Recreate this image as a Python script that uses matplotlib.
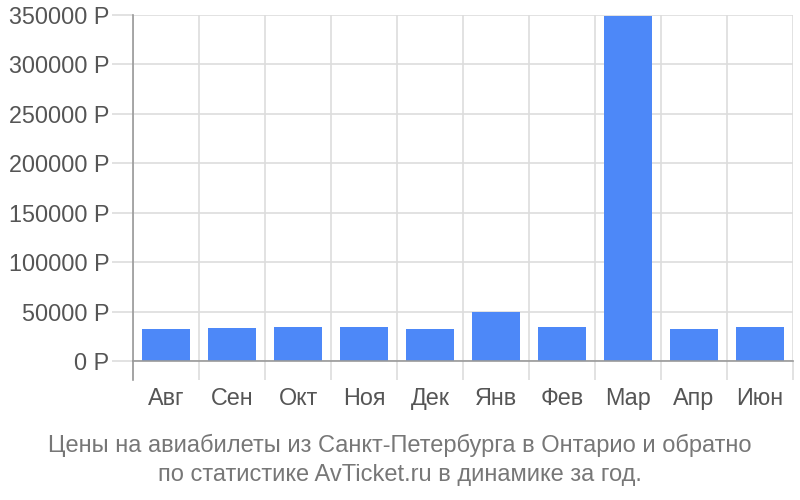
import matplotlib
matplotlib.use("Agg")
import matplotlib.pyplot as plt
import numpy as np
from matplotlib.ticker import FixedLocator, FuncFormatter

plt.rcParams['font.family'] = ['Liberation Sans', 'DejaVu Sans']

months = ["Авг", "Сен", "Окт", "Ноя", "Дек", "Янв", "Фев", "Мар", "Апр", "Июн"]
prices = [32000, 33500, 34000, 34000, 32800, 49600, 34200, 349000, 32700, 34500]
yticks = [0, 50000, 100000, 150000, 200000, 250000, 300000, 350000]
title = "Цены на авиабилеты из Санкт-Петербурга в Онтарио и обратно\nпо статистике AvTicket.ru в динамике за год."

fig = plt.figure(figsize=(8, 5), dpi=100)
ax = fig.add_axes([133/800, 1-361/500, 660/800, 346/500])

x = np.arange(len(months))
ax.bar(x, prices, width=0.72, color="#4d88f8", zorder=3)

ax.set_xlim(-0.5, len(months) - 0.5)
ax.set_ylim(0, 350000)

ax.set_yticks(yticks)
ax.yaxis.set_major_formatter(FuncFormatter(lambda v, p: f"{int(v)} Р"))
ax.set_xticks(x)
ax.set_xticklabels(months)
ax.xaxis.set_minor_locator(FixedLocator(np.arange(-0.5, len(months), 1.0)))

ax.tick_params(axis='x', which='major', length=0, pad=19, labelsize=16.8, labelcolor="#555555")
ax.tick_params(axis='x', which='minor', length=14, width=1.2, color="#dddddd")
ax.tick_params(axis='y', which='major', length=15, width=1.2, color="#dddddd", pad=2,
               labelsize=16.8, labelcolor="#555555")

ax.grid(True, which='minor', axis='x', color="#dddddd", linewidth=1.2, zorder=0)
ax.grid(True, which='major', axis='y', color="#dddddd", linewidth=1.2, zorder=0)

for s in ["top", "right"]:
    ax.spines[s].set_visible(False)
ax.spines["left"].set_color("#999999")
ax.spines["left"].set_linewidth(1.2)
ax.spines["bottom"].set_color("#999999")
ax.spines["bottom"].set_linewidth(1.2)
ax.spines["bottom"].set_zorder(4)
ax.plot([-0.5, -0.5], [0, -19/346*350000], color="#999999", lw=1.2, clip_on=False, zorder=4)

fig.text(0.5, 1-460/500, title, ha="center", va="center", fontsize=17, color="#777777",
         linespacing=1.38)

fig.savefig("out.png", dpi=100)
